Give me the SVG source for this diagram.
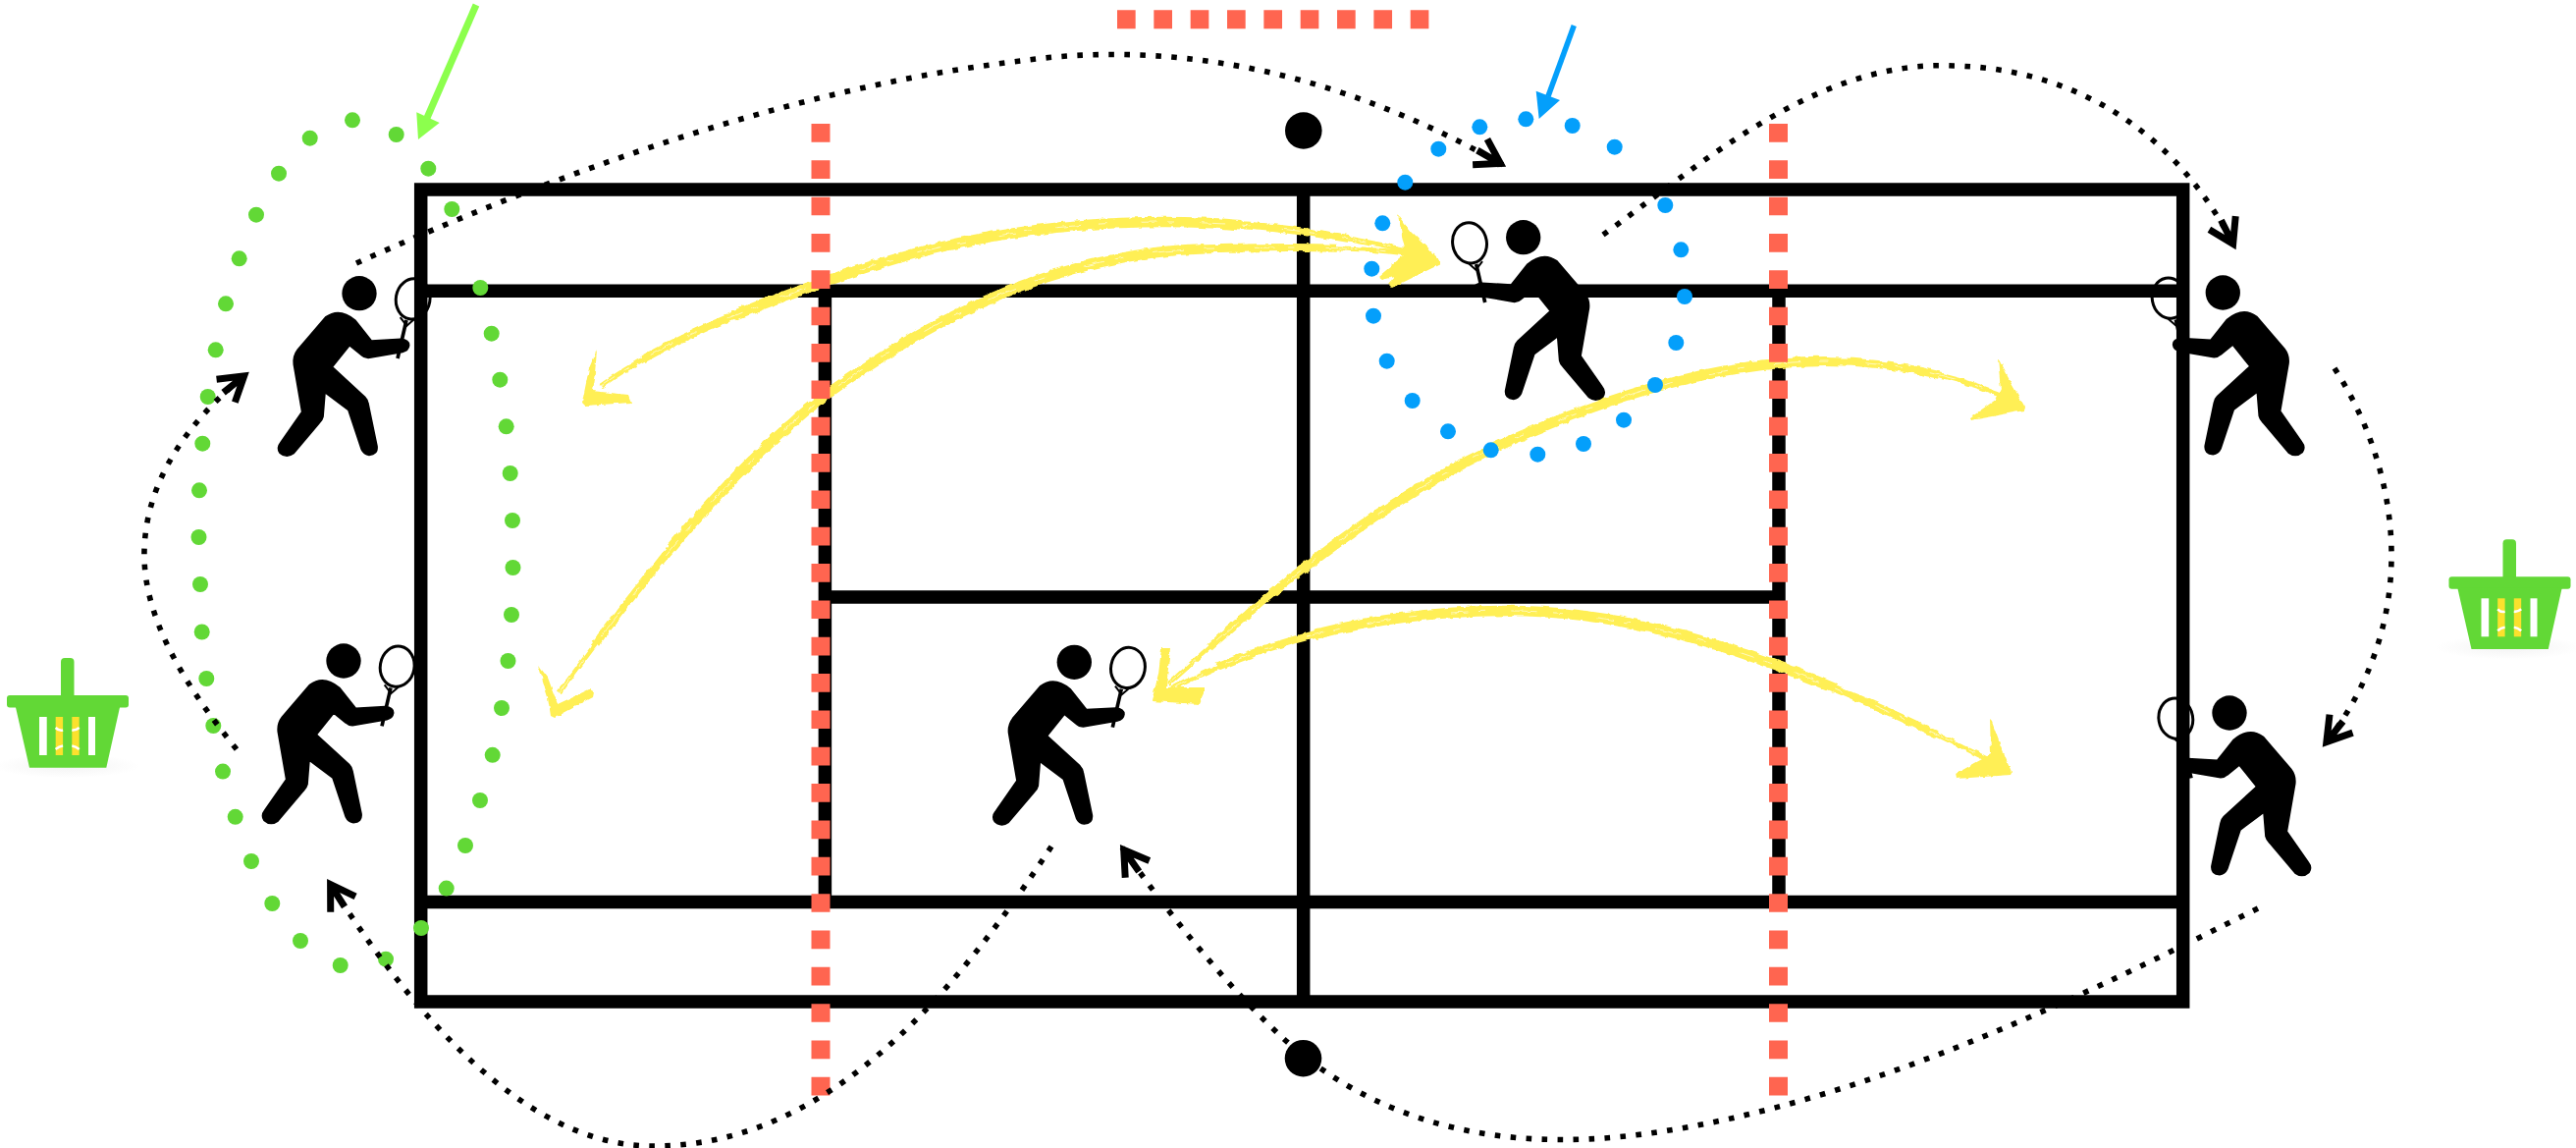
<svg xmlns="http://www.w3.org/2000/svg" xmlns:xlink="http://www.w3.org/1999/xlink" width="2624" height="1169" viewBox="0 0 2624 1169">
<style>
.court{stroke:#000;stroke-width:13.5;fill:none}
.red{stroke:#ff6550;stroke-width:19;stroke-dasharray:18.67 18.67;fill:none}
.gd{fill:#62d836}
.bd{fill:#049ffb}
.dot{fill:none;stroke:#000;stroke-width:5.6;stroke-dasharray:5.6 10.4;marker-end:url(#open)}
.yl{fill:none;stroke:#ffef55;stroke-linecap:butt}
.w3{stroke-width:5}
.w5{stroke-width:8;stroke-dasharray:0 6 87 7}
.w8{stroke-width:10.5;stroke-dasharray:0 18 62 20}
.st{fill:none;stroke:#fff;stroke-width:.9;stroke-opacity:.7;stroke-dasharray:2 1.2 .8 3 3 2 1 4}
.yh{fill:#ffef55}
.bk{fill:#62d836}
</style>
<defs>
<marker id="open" markerUnits="userSpaceOnUse" markerWidth="70" markerHeight="70" refX="3" refY="0" orient="auto" overflow="visible">
<path d="M-24,-15 L0,0 L-24,15 M-27,0 L0,0" fill="none" stroke="#000" stroke-width="7" stroke-dasharray="none" stroke-miterlimit="8"/>
</marker>
<radialGradient id="sh"><stop offset="0" stop-color="#999" stop-opacity=".12"/><stop offset="1" stop-color="#999" stop-opacity="0"/></radialGradient>
<filter id="brush" filterUnits="userSpaceOnUse" x="500" y="180" width="1620" height="650">
<feTurbulence type="fractalNoise" baseFrequency="0.13" numOctaves="2" seed="4" result="n"/>
<feDisplacementMap in="SourceGraphic" in2="n" scale="4.5" xChannelSelector="R" yChannelSelector="G"/>
</filter>
<path id="y1" pathLength="100" d="M612,393 C680,345 760,315 845,285 C930,255 1040,226 1187,226 C1270,226 1360,238 1433,255"/>
<path id="y2" pathLength="100" d="M570,705 C640,610 730,490 840,403 C920,345 1060,255 1238,253 C1300,252 1370,250 1433,258"/>
<path id="y3" pathLength="100" d="M1190,697 C1275,620 1380,525 1518,458 C1620,411 1740,368 1858,368 C1920,368 1985,380 2038,402"/>
<path id="y4" pathLength="100" d="M1193,702 C1280,655 1400,622 1536,622 C1680,622 1830,675 2028,775"/>
<g id="player">
<g transform="scale(.33333) translate(-433,-163)">
<circle cx="433" cy="163" r="53" fill="#000"/>
<path fill="#000" stroke="#000" stroke-width="5" stroke-linejoin="round" d="M330,236 Q372,205 420,245 L470,308 L560,303 Q585,305 585,322 Q583,338 565,342 L460,360 Q448,360 440,352 L403,322 L350,388 L450,480 Q458,488 460,500 L487,630 Q490,655 463,657 Q447,655 440,640 L400,520 L328,466 L322,540 Q320,550 310,560 L232,652 Q210,668 190,650 Q180,635 192,620 L258,525 L233,380 Q230,355 245,335 Z"/>
<ellipse cx="597" cy="180" rx="52" ry="62" transform="rotate(10 597 180)" fill="none" stroke="#000" stroke-width="9"/>
<path d="M577,245 L550,362" stroke="#000" stroke-width="11" fill="none"/>
<path d="M558,236 L578,262 L600,243" stroke="#000" stroke-width="6" fill="none"/>
</g>
</g>
<g id="basket">
<ellipse cx="68" cy="780" rx="75" ry="12" fill="url(#sh)"/>
<rect class="bk" x="62" y="670" width="13.5" height="45" rx="4"/>
<rect class="bk" x="7" y="708" width="124" height="12.5" rx="3"/>
<path class="bk" d="M15.7,719 L122.3,719 L108.3,781.7 L30,781.7 Z"/>
<rect x="40" y="730" width="7.7" height="39" fill="#fff"/>
<rect x="56.7" y="730" width="7.4" height="39" fill="#fbe12d"/>
<rect x="73.3" y="730" width="7.4" height="39" fill="#fbe12d"/>
<rect x="90" y="730" width="7" height="39" fill="#fff"/>
<path d="M56.7,741 Q60,744.5 64.1,743.5 M73.3,743.5 Q77,744 80.7,741 M56.7,763 Q60,760 64.1,759.5 M73.3,759.5 Q77,760 80.7,763" stroke="#fff" stroke-width="2.6" fill="none"/>
</g>
</defs>
<rect width="2624" height="1169" fill="#fff"/>

<g id="court">
<rect class="court" x="428.7" y="193" width="1795" height="827"/>
<path class="court" d="M428,296.3 H2224 M428,918.6 H2224 M1327.7,193 V1020 M840.4,296 V919 M1812,296 V919 M840,608 H1818"/>
<circle cx="1327.8" cy="133" r="18.8" fill="#000"/>
<circle cx="1327.5" cy="1077.7" r="18.8" fill="#000"/>
</g>

<g id="connectors">
<g id="ball-arcs" filter="url(#brush)">
<g class="yl">
<use href="#y1" class="w3"/><use href="#y1" class="w5"/><use href="#y1" class="w8"/>
<use href="#y2" class="w3"/><use href="#y2" class="w5"/><use href="#y2" class="w8"/>
<use href="#y3" class="w3"/><use href="#y3" class="w5"/><use href="#y3" class="w8"/>
<use href="#y4" class="w3"/><use href="#y4" class="w5"/><use href="#y4" class="w8"/>
</g>
<g class="st"><use href="#y1"/><use href="#y2"/><use href="#y3"/><use href="#y4"/></g>
<path class="yh" d="M608,356 L606,380 L603,398 L640,402 L643,410 L596,413 L593,410 L600,375 Z"/>
<path class="yh" d="M548,677 L558,690 L568,717 L600,702 L605,705 L604,710 L565,731 L561,729 L558,710 Z"/>
<path class="yh" d="M1424,219 L1437,236 L1467,265 L1467,269 L1418,293 L1414,289 L1420,282 L1408,285 L1404,282 L1432,258 L1428,240 Z"/>
<path class="yh" d="M2035,365 L2038,397 L2033,407 L2007,425 L2008,428 L2062,418 L2063,415 L2047,387 L2037,368 Z"/>
<path class="yh" d="M2027,733 L2028,768 L1992,788 L1993,793 L2048,789 L2049,787 L2037,757 L2029,735 Z"/>
<path class="yh" d="M1183,660 L1192,660 L1188,700 L1227,700 L1227,706 L1222,717 L1173,714 L1180,687 Z"/>
</g>
</g>

<g id="markers-red">
<path class="red" d="M836,126 V1116"/>
<path class="red" d="M1811.5,126 V1116"/>
<path class="red" d="M1138,19.7 H1456"/>
</g>

<g id="player-1"><use href="#player" transform="translate(366,298.7)"/></g>
<g id="player-2"><use href="#player" transform="translate(350,673)"/></g>
<g id="player-3"><use href="#player" transform="translate(1094.3,674.3)"/></g>
<g id="player-4"><use href="#player" transform="translate(1551.7,241.7) scale(-1,1)"/></g>
<g id="player-5"><use href="#player" transform="translate(2264.3,298) scale(-1,1)"/></g>
<g id="player-6"><use href="#player" transform="translate(2271,726) scale(-1,1)"/></g>

<g id="basket-left"><use href="#basket"/></g>
<g id="basket-right"><use href="#basket" transform="translate(2487.5,-120.7)"/></g>

<g id="green-zone">
<circle class="gd" cx="436.3" cy="171.7" r="8"/><circle class="gd" cx="403.7" cy="137" r="8"/><circle class="gd" cx="359" cy="122.3" r="8"/><circle class="gd" cx="315.7" cy="140.7" r="8"/><circle class="gd" cx="284" cy="176.7" r="8"/><circle class="gd" cx="261" cy="218.7" r="8"/><circle class="gd" cx="243.7" cy="263.3" r="8"/><circle class="gd" cx="230" cy="309.3" r="8"/><circle class="gd" cx="219.7" cy="356.3" r="8"/><circle class="gd" cx="211.7" cy="404" r="8"/><circle class="gd" cx="206.3" cy="451.7" r="8"/><circle class="gd" cx="203" cy="499.3" r="8"/><circle class="gd" cx="202.5" cy="547" r="8"/><circle class="gd" cx="204" cy="595" r="8"/><circle class="gd" cx="205.7" cy="643.5" r="8"/><circle class="gd" cx="210.3" cy="691" r="8"/><circle class="gd" cx="217.3" cy="739" r="8"/><circle class="gd" cx="227" cy="785.6" r="8"/><circle class="gd" cx="239.7" cy="831.8" r="8"/><circle class="gd" cx="256" cy="877" r="8"/><circle class="gd" cx="277.3" cy="920" r="8"/><circle class="gd" cx="306" cy="958" r="8"/><circle class="gd" cx="346.7" cy="983" r="8"/><circle class="gd" cx="393" cy="976.7" r="8"/><circle class="gd" cx="429" cy="945" r="8"/><circle class="gd" cx="454.7" cy="904.6" r="8"/><circle class="gd" cx="474" cy="861" r="8"/><circle class="gd" cx="489" cy="815" r="8"/><circle class="gd" cx="501.7" cy="768.8" r="8"/><circle class="gd" cx="511" cy="721" r="8"/><circle class="gd" cx="517.5" cy="673" r="8"/><circle class="gd" cx="521" cy="626" r="8"/><circle class="gd" cx="522.5" cy="578" r="8"/><circle class="gd" cx="522" cy="530" r="8"/><circle class="gd" cx="519.7" cy="482" r="8"/><circle class="gd" cx="515.7" cy="434.3" r="8"/><circle class="gd" cx="509.3" cy="386.7" r="8"/><circle class="gd" cx="500.7" cy="339.7" r="8"/><circle class="gd" cx="489.3" cy="293" r="8"/><circle class="gd" cx="460.3" cy="213" r="8"/>
<path d="M485,5 L435,120" stroke="#8cff4d" stroke-width="7" fill="none"/>
<path d="M426,142 L424.3,114.3 L447.7,125 Z" fill="#8cff4d"/>
</g>

<g id="blue-zone">
<circle class="bd" cx="1431.3" cy="185.7" r="8"/><circle class="bd" cx="1465.3" cy="151.7" r="8"/><circle class="bd" cx="1507.3" cy="129.3" r="8"/><circle class="bd" cx="1554.3" cy="121.3" r="8"/><circle class="bd" cx="1601.7" cy="128" r="8"/><circle class="bd" cx="1644.7" cy="149.7" r="8"/><circle class="bd" cx="1696.3" cy="209" r="8"/><circle class="bd" cx="1712.3" cy="254.3" r="8"/><circle class="bd" cx="1716" cy="302" r="8"/><circle class="bd" cx="1707.3" cy="349" r="8"/><circle class="bd" cx="1686" cy="392" r="8"/><circle class="bd" cx="1654" cy="427.7" r="8"/><circle class="bd" cx="1613" cy="452" r="8"/><circle class="bd" cx="1566.3" cy="462.7" r="8"/><circle class="bd" cx="1518.7" cy="458.3" r="8"/><circle class="bd" cx="1475" cy="439.3" r="8"/><circle class="bd" cx="1438.7" cy="408" r="8"/><circle class="bd" cx="1412.7" cy="367.7" r="8"/><circle class="bd" cx="1399" cy="321.7" r="8"/><circle class="bd" cx="1397.3" cy="273.7" r="8"/><circle class="bd" cx="1408.3" cy="227.3" r="8"/>
<path d="M1603.3,26 L1577,98" stroke="#049ffb" stroke-width="5.5" fill="none"/>
<path d="M1567.7,121 L1564.7,92.7 L1589,102 Z" fill="#049ffb"/>
</g>

<g id="movement-paths">
<path class="dot" d="M363,268 C560,180 800,90 1040,62 C1180,42 1350,65 1531,168"/>
<path class="dot" d="M1633,239 C1730,170 1850,60 1990,67 C2120,70 2220,140 2276,251"/>
<path class="dot" d="M2378,375 C2420,440 2437,510 2436,570 C2435,640 2410,705 2368,758"/>
<path class="dot" d="M2300,925 C2130,1010 1900,1125 1673,1155 C1520,1175 1400,1140 1310,1060 C1250,1005 1190,930 1143,863"/>
<path class="dot" d="M1071,862 C980,1000 850,1168 665,1167 C560,1167 450,1080 335,898"/>
<path class="dot" d="M241,763 C190,700 145,630 147,560 C149,490 190,430 251,381"/>
</g>
</svg>
